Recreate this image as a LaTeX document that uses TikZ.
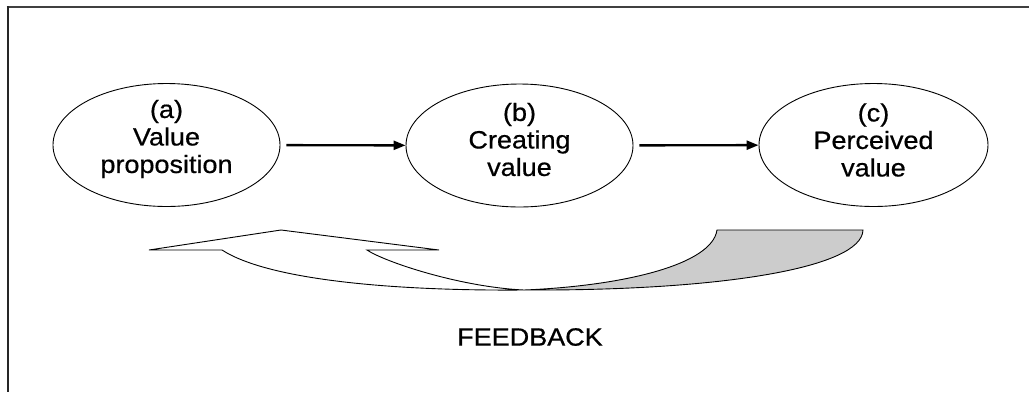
\documentclass[tikz,border=0pt]{standalone}
\usepackage{fontspec}
\setmainfont{Liberation Sans}[FakeStretch=1.08,FakeBold=0.6]
\usetikzlibrary{shapes.geometric,arrows.meta}

\begin{document}
\begin{tikzpicture}[x=1pt,y=-1pt]
    \tikzstyle{every node}+=[inner sep=0pt]
    \tikzstyle{valbox}=[draw,black,ellipse,minimum width=227pt,minimum height=123pt,line width=0.9pt]
    \tikzstyle{valtext}=[align=center,font=\fontsize{25}{27.5}\selectfont]
    \tikzstyle{flow}=[line width=2.4pt,-{Triangle[length=12pt,width=9pt]},shorten <=6pt]
    \tikzstyle{fbwhite}=[draw,black,line width=0.9pt,fill=white,line join=miter]
    \tikzstyle{fbgrey}=[draw,black,line width=0.9pt,fill={rgb,255:red,204;green,204;blue,204}]
    \useasboundingbox (0,0) rectangle (1029,392);
    % frame
    \draw [line width=2pt,black!75] (6.5,7) -- (1029,7);
    \draw [line width=2pt,black!85] (7.5,6) -- (7.5,392);
    % the three stages
    \node [valbox] (a) at (166.5,145) {};
    \node [valtext] (atext) at ([yshift=6pt]a.center) {(a)\\Value\\proposition};
    \node [valbox] (b) at (519.5,145.5) {};
    \node [valtext] (btext) at ([yshift=6pt]b.center) {(b)\\Creating\\value};
    \node [valbox,minimum width=229pt] (c) at (873.5,145) {};
    \node [valtext] (ctext) at ([yshift=5pt]c.center) {(c)\\Perceived\\value};
    \draw [flow] (a) -- (b);
    \draw [flow] (b) -- (c);
    % feedback arrow
    \coordinate (fbcross) at (524,290);
    \draw [fbgrey] (fbcross) .. controls (622,286) and (712,265) .. (717,230) -- (863,230) .. controls (862,268) and (720,291) .. (fbcross) -- cycle;
    \draw [fbwhite] (222,250) .. controls (270,281) and (400,291) .. (fbcross) .. controls (460,287) and (385,262) .. (367,250) -- (439,250) -- (281,230) -- (149,250) -- cycle;
    \node [valtext] (fbtext) at (530,337) {FEEDBACK};
\end{tikzpicture}
\end{document}
